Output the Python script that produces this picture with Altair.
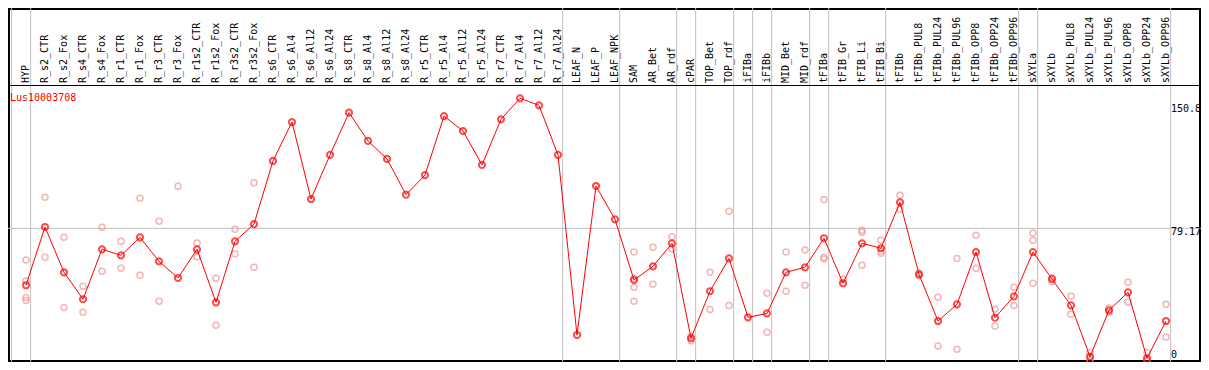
import altair as alt
import pandas as pd

categories = [
    "HYP", "R_s2_CTR", "R_s2_Fox", "R_s4_CTR", "R_s4_Fox", "R_r1_CTR", "R_r1_Fox",
    "R_r3_CTR", "R_r3_Fox", "R_r1s2_CTR", "R_r1s2_Fox", "R_r3s2_CTR", "R_r3s2_Fox",
    "R_s6_CTR", "R_s6_Al4", "R_s6_Al12", "R_s6_Al24", "R_s8_CTR", "R_s8_Al4",
    "R_s8_Al12", "R_s8_Al24", "R_r5_CTR", "R_r5_Al4", "R_r5_Al12", "R_r5_Al24",
    "R_r7_CTR", "R_r7_Al4", "R_r7_Al12", "R_r7_Al24", "LEAF_N", "LEAF_P", "LEAF_NPK",
    "SAM", "AR_Bet", "AR_rdf", "cPAR", "TOP_Bet", "TOP_rdf", "iFIBa", "iFIBb",
    "MID_Bet", "MID_rdf", "tFIBa", "tFIB_Gr", "tFIB_Li", "tFIB_Bi", "tFIBb",
    "tFIBb_PUL8", "tFIBb_PUL24", "tFIBb_PUL96", "tFIBb_OPP8", "tFIBb_OPP24",
    "tFIBb_OPP96", "sXYLa", "sXYLb", "sXYLb_PUL8", "sXYLb_PUL24", "sXYLb_PUL96",
    "sXYLb_OPP8", "sXYLb_OPP24", "sXYLb_OPP96",
]

means = [
    47.8, 79.9, 54.9, 40.1, 67.6, 64.3, 74.2, 61.0, 51.8, 67.6, 38.4, 72.0, 81.5,
    116.3, 137.7, 95.3, 119.6, 142.9, 127.3, 117.4, 97.7, 108.5, 141.0, 132.8, 114.1,
    139.2, 150.8, 146.9, 119.6,
    20.4, 102.5, 84.1,
    50.7, 58.2, 70.9, 18.6, 44.5, 62.6, 30.1, 32.3, 54.9, 57.7, 73.7, 48.9, 70.9, 68.2,
    93.5, 53.8, 28.1, 37.3, 66.1, 29.9, 41.7,
    66.1, 51.2, 36.7, 8.4, 34.0, 43.9, 7.5, 28.1,
]

replicates = [
    [61.7, 50.1, 41.0, 39.4], [96.3, 63.2], [74.2, 35.6], [47.2, 32.9], [79.7, 55.5],
    [72.0, 57.1], [95.7, 53.3], [83.0, 39.0], [102.3, 1.5], [71.1, 63.5], [51.6, 25.7],
    [78.6, 65.2], [104.3, 57.7],
    [], [], [], [], [], [], [], [], [], [], [], [], [], [], [], [],
    [], [], [],
    [66.1, 51.6, 46.7, 39.0], [68.7, 48.3], [74.4, 67.8], [19.5, 17.2], [54.9, 34.5],
    [88.5, 36.7], [], [43.4, 21.9], [66.1, 44.5], [67.2, 47.8], [95.1, 63.2, 62.3],
    [51.1], [78.1, 77.0, 58.8], [72.6, 66.5, 65.4], [97.4, 89.6],
    [54.5, 53.1], [41.2, 14.3], [62.6, 12.5], [75.3, 57.1], [34.7, 25.3], [46.7, 36.7],
    [76.6, 72.6, 48.9], [51.9, 49.7], [41.7, 31.8], [10.8, 6.6], [35.3, 32.9],
    [49.4, 38.4], [10.8, 6.2], [37.3, 19.3],
]

group_ends = ["HYP", "R_r7_Al24", "LEAF_NPK", "AR_rdf", "cPAR", "TOP_rdf", "iFIBa",
              "iFIBb", "MID_rdf", "tFIBa", "tFIB_Bi", "tFIBb_OPP96", "sXYLa", "sXYLb_OPP96"]

gene_label = "Lus10003708"
ylab_values = [150.8, 79.17, 7.54]
ylab_text = ["150.8", "79.17", "0"]
mid_value = 79.17

# ---- layout ----
W, H = 1193, 354
x_domain = [1 - 18 / 19, 1 + (W - 18) / 19]
y_domain = [5.51, 79.17 + 220.3 / 1.815]
FONT = "DejaVu Sans Mono"

idx = {c: i + 1 for i, c in enumerate(categories)}
main_df = pd.DataFrame({"cat": categories, "idx": list(range(1, len(categories) + 1)), "value": means})
rep_df = pd.DataFrame(
    [{"cat": c, "idx": idx[c], "value": v} for c, reps in zip(categories, replicates) for v in reps]
)
grid_df = pd.DataFrame({"pos": [0.245] + [idx[c] + 0.245 for c in group_ends]})
one = pd.DataFrame({"a": [0]})

xs = alt.Scale(domain=x_domain, nice=False, zero=False)
ys = alt.Scale(domain=y_domain, nice=False, zero=False)
X = alt.X("idx:Q", scale=xs, axis=None)
Y = alt.Y("value:Q", scale=ys, axis=None)

vrules = alt.Chart(grid_df).mark_rule(color="#c0c0c0", strokeWidth=1).encode(
    x=alt.X("pos:Q", scale=xs, axis=None), y=alt.value(0), y2=alt.value(H)
)
hrule = alt.Chart(pd.DataFrame({"value": [mid_value]})).mark_rule(color="#c0c0c0", strokeWidth=1).encode(
    y=Y, x=alt.value(0), x2=alt.value(W)
)
header_line = alt.Chart(one).mark_rule(color="black", strokeWidth=1.2).encode(
    y=alt.value(77.5), x=alt.value(0), x2=alt.value(W)
)
reps = alt.Chart(rep_df).mark_point(
    shape="circle", filled=False, color="#f09696", size=36, strokeWidth=1.5, clip=True
).encode(x=X, y=Y)
line = alt.Chart(main_df).mark_line(color="#ff0000", strokeWidth=1).encode(x=X, y=Y)
pts = alt.Chart(main_df).mark_point(
    shape="circle", filled=False, color="#ff0000", size=38, strokeWidth=2
).encode(x=X, y=Y)
header = alt.Chart(main_df).mark_text(
    angle=270, align="left", baseline="middle", font=FONT, fontSize=10, color="black"
).encode(x=X, y=alt.value(75), text="cat:N")
gene = alt.Chart(pd.DataFrame({"t": [gene_label]})).mark_text(
    align="left", baseline="middle", font=FONT, fontSize=10, color="#ff0000"
).encode(x=alt.value(2), y=alt.value(89.5), text="t:N")

ylab_dy = [10.5, 4, -3]
ylabs = []
for v, t, dy in zip(ylab_values, ylab_text, ylab_dy):
    ylabs.append(
        alt.Chart(pd.DataFrame({"value": [v], "t": [t]})).mark_text(
            align="left", baseline="middle", font=FONT, fontSize=10, color="black", dy=dy
        ).encode(x=alt.value(1163), y=Y, text="t:N")
    )

chart = alt.layer(vrules, hrule, header_line, reps, line, pts, header, gene, *ylabs).properties(
    width=W, height=H, autosize=alt.AutoSizeParams(type="none"), padding=0
).configure_view(stroke="black", strokeWidth=4)

chart.save("out.html", embed_options={"renderer": "svg", "actions": False})
